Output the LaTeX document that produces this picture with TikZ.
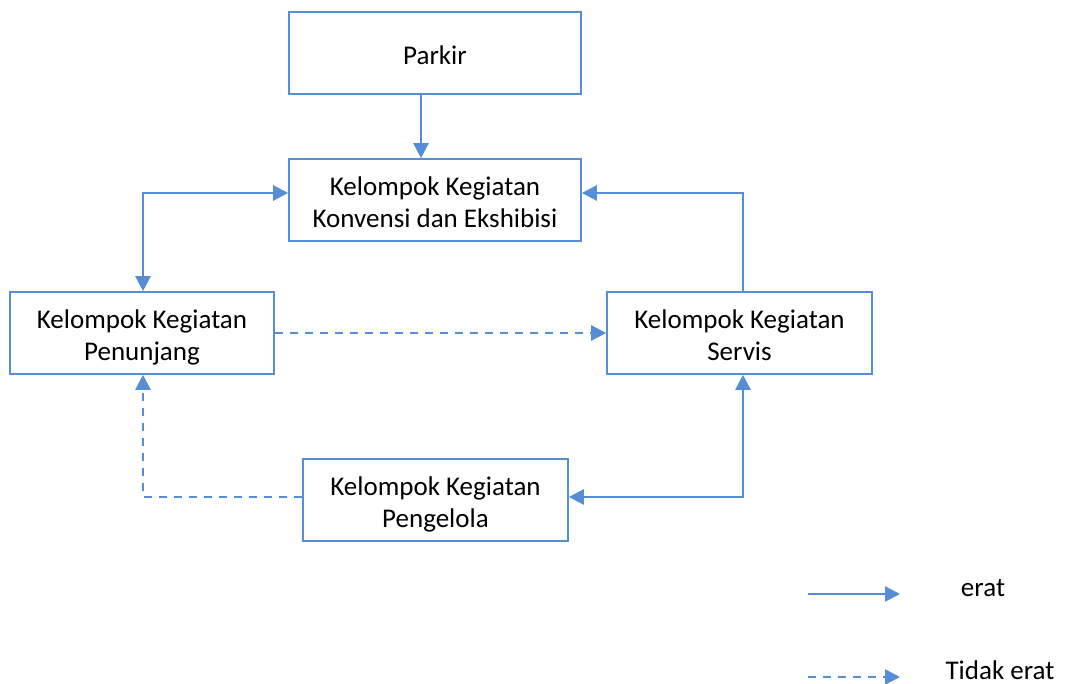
\documentclass[tikz,border=0pt]{standalone}
\usepackage{fontspec}
\setmainfont{Carlito}
\usetikzlibrary{arrows.meta}
\definecolor{lb}{RGB}{86,141,212}
\newcommand{\twolines}[2]{\raisebox{-5pt}[\height][\depth]{\begin{tabular}{@{}c@{}}#1\\#2\end{tabular}}}
\tikzset{
  box/.style={draw=lb, line width=1.6pt, fill=white, minimum width=#1, minimum height=82pt, align=center, inner sep=0pt, font=\fontsize{27}{32}\selectfont},
  box/.default=292pt,
  conn/.style={draw=lb, line width=2.4pt, -{Triangle[length=15pt,width=15pt]}},
  both/.style={draw=lb, line width=2.4pt, {Triangle[length=15pt,width=15pt]}-{Triangle[length=15pt,width=15pt]}},
  dconn/.style={conn, dash pattern=on 8pt off 7pt},
  lbl/.style={font=\fontsize{27}{32}\selectfont, inner sep=0pt}
}
\begin{document}
\begin{tikzpicture}[x=1pt,y=-1pt]
\useasboundingbox (0,0) rectangle (1069,684);
\node[box=292pt] (park) at (435,53) {\raisebox{-2pt}[\height][\depth]{Parkir}};
\node[box=292pt] (konv) at (435,200) {\twolines{Kelompok Kegiatan}{Konvensi dan Ekshibisi}};
\node[box=264pt] (penu) at (142,333) {\twolines{Kelompok Kegiatan}{Penunjang}};
\node[box=265pt] (serv) at (739.5,333) {\twolines{Kelompok Kegiatan}{Servis}};
\node[box=265pt] (peng) at (435.5,500) {\twolines{Kelompok Kegiatan}{Pengelola}};
% connectors
\draw[conn] (park.south -| 421,0) -- (konv.north -| 421,0);
\draw[both] (konv.west |- 0,193) -| (penu.north -| 143,0);
\draw[conn] (serv.north -| 743,0) |- (konv.east |- 0,193);
\draw[both] (peng.east |- 0,497) -| (serv.south -| 743,0);
\draw[dconn] (peng.west |- 0,497) -| (penu.south -| 143,0);
\draw[dconn] (penu.east) -- (serv.west);
% legend
\coordinate (l1a) at (808,594);
\coordinate (l1b) at (900,594);
\coordinate (l2a) at (808,677);
\coordinate (l2b) at (900,677);
\draw[conn] (l1a) -- (l1b);
\draw[dconn] (l2a) -- (l2b);
\node[lbl] (erat) at (983,588) {erat};
\node[lbl] (tidak) at (1000,670) {Tidak erat};
\end{tikzpicture}
\end{document}
